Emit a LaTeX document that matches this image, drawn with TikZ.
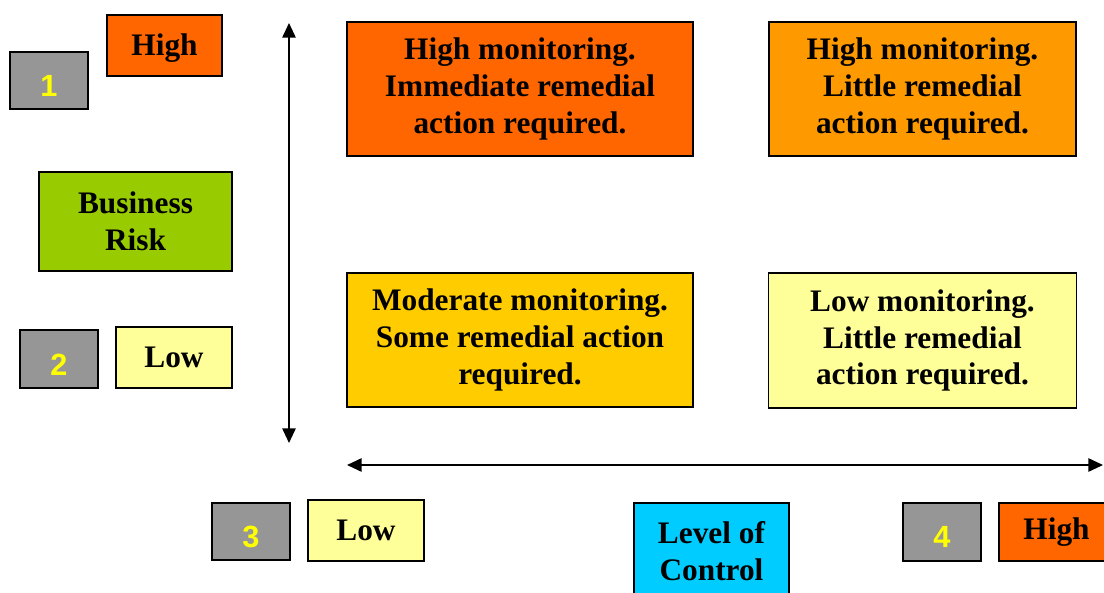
\documentclass[tikz,border=0pt]{standalone}
\usepackage{fontspec}
\setmainfont{Liberation Serif}
\newfontfamily\numfont{Liberation Sans}
\usetikzlibrary{arrows.meta}

\definecolor{hotorange}{HTML}{FF6600}
\definecolor{midorange}{HTML}{FF9900}
\definecolor{gold}{HTML}{FFCC00}
\definecolor{paleyellow}{HTML}{FFFF99}
\definecolor{leafgreen}{HTML}{99CC00}
\definecolor{skycyan}{HTML}{00CCFF}
\definecolor{numgray}{HTML}{969696}
\definecolor{numyellow}{HTML}{FFFF00}

% text set a little below the middle of its box
\newcommand{\lowtext}[2][4pt]{\raisebox{-#1}[\height][\depth]{#2}}

\tikzset{
  size/.style 2 args={minimum width=#1*0.75pt, minimum height=#2*0.75pt},
  cell/.style={draw=black, line width=1.1pt, inner sep=0pt, align=center,
    font=\bfseries\fontsize{23.5}{27.5}\selectfont},
  numbox/.style={draw=black, line width=1.1pt, inner sep=0pt, fill=numgray,
    text=numyellow, font=\numfont\bfseries\fontsize{23}{27}\selectfont},
  axis/.style={line width=1.3pt,
    {Triangle[length=11pt,width=10pt]}-{Triangle[length=11pt,width=10pt]}}
}

\begin{document}
\begin{tikzpicture}[x=0.75pt, y=-0.75pt]
\useasboundingbox (0,0) rectangle (1104,593);
\begin{scope}
\clip (0,0) rectangle (1104,593);

% vertical axis: business risk
\node[numbox, size={78}{57}] (n1) at (49,80.5) {\lowtext{1}};
\node[cell, size={115}{61}, fill=hotorange] (riskhigh) at (164.5,45.5) {\lowtext[2pt]{High}};
\node[cell, size={193}{99}, fill=leafgreen] (risk) at (135.5,221.5)
  {\fontsize{23.5}{27.75}\selectfont Business\\Risk};
\node[numbox, size={78}{58}] (n2) at (59,359) {\lowtext{2}};
\node[cell, size={116}{61}, fill=paleyellow] (risklow) at (174,357.5) {Low};

% quadrants
\node[cell, size={346}{134}, fill=hotorange] (q1) at (520,89)
  {\fontsize{23.5}{26}\selectfont High monitoring.\\Immediate remedial\\action required.};
\node[cell, size={307}{134}, fill=midorange] (q2) at (922.5,89)
  {\fontsize{23.5}{27.75}\selectfont High monitoring.\\Little remedial\\action required.};
\node[cell, size={346}{134}, fill=gold] (q3) at (520,340)
  {\fontsize{23.5}{28.5}\selectfont Moderate monitoring.\\Some remedial action\\required.};
\node[cell, size={308}{135}, fill=paleyellow] (q4) at (922.5,340.5)
  {\fontsize{23.5}{28.5}\selectfont Low monitoring.\\Little remedial\\action required.};

% horizontal axis: level of control
\node[numbox, size={78}{57}] (n3) at (251,531.5) {\lowtext{3}};
\node[cell, size={116}{61}, fill=paleyellow] (ctrllow) at (366,530.5) {Low};
\node[cell, size={155}{96}, fill=skycyan] (ctrl) at (711.5,551)
  {\fontsize{23.5}{28.5}\selectfont Level of\\Control};
\node[numbox, size={78}{58}] (n4) at (942,532) {\lowtext{4}};
\node[cell, size={115}{58}, fill=hotorange] (ctrlhigh) at (1056.5,532) {High};

% axes
\coordinate (vtop) at (289,23);
\coordinate (vbot) at (289,443);
\coordinate (hleft) at (347,465);
\coordinate (hright) at (1103,465);
\draw[axis] (vtop) -- (vbot);
\draw[axis] (hleft) -- (hright);
\end{scope}
\end{tikzpicture}
\end{document}
